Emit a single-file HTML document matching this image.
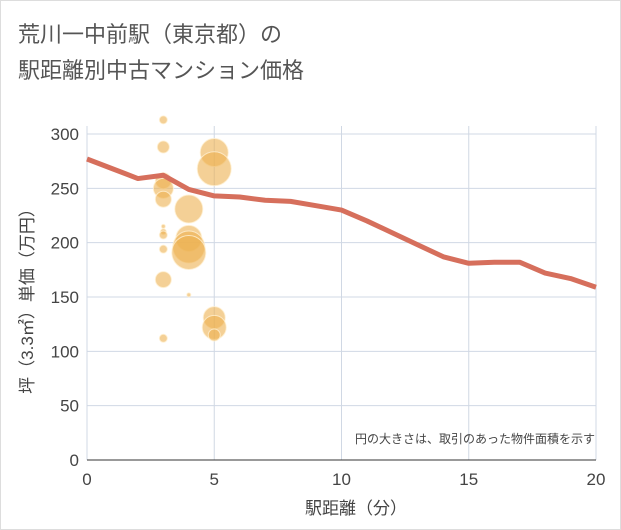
<!DOCTYPE html>
<html><head><meta charset="utf-8"><style>
body{margin:0;background:#fff;}
svg{display:block;font-family:"Liberation Sans","Noto Sans CJK JP",sans-serif;}
</style></head><body>
<svg width="621" height="530">
<rect x="0.5" y="0.5" width="620" height="529" fill="#fff" stroke="#ddd"/>
<text x="18" y="42" font-size="22" fill="#555">荒川一中前駅（東京都）の</text>
<text x="18" y="78" font-size="22" fill="#555">駅距離別中古マンション価格</text>
<g id="grid"></g>
<g id="bubbles"></g>
<g id="line"></g>
<g id="axes"></g>
<text x="595" y="443" font-size="12" fill="#444" text-anchor="end">円の大きさは、取引のあった物件面積を示す</text>
<text x="356" y="514" font-size="17" fill="#444" text-anchor="middle">駅距離（分）</text>
<text transform="translate(33,297) rotate(-90)" font-size="17" fill="#444" text-anchor="middle">坪（3.3㎡）単価（万円）</text>
</svg>
<script>
const xTicks=[0,5,10,15,20];
const yTicks=[0,50,100,150,200,250,300];
const bubbleX=[3,3,3,3,3,3,3,3,3,3,3,4,4,4,4,4,5,5,5,5,5];
const bubbleY=[313,288,257,250,240,215,210,207,194,166,112,231,204,196,191,152,283,268,131,122,115];
const bubbleR=[4,6,8,10,8,2,3,4,4,8,4,14,13,16,17,2,14,17,11,12,6];
const lineX=[0,1,2,3,4,5,6,7,8,9,10,11,12,13,14,15,16,17,18,19,20];
const lineY=[277,268,259,262,249,243,242,239,238,234,230,220,209,198,187,181,182,182,172,167,159];
const X0=87,X1=596,Y0=460,PY=1.0867;
const sx=v=>X0+(X1-X0)*v/20, sy=v=>Y0-v*PY;
const NS="http://www.w3.org/2000/svg";
function mk(t,a,p){const e=document.createElementNS(NS,t);for(const k in a)e.setAttribute(k,a[k]);p.appendChild(e);return e;}
const g=document.getElementById('grid'),ax=document.getElementById('axes');
yTicks.forEach(v=>{const l=mk('line',{x1:X0,x2:X1,y1:sy(v),y2:sy(v),stroke:'#d0d8e4','stroke-width':1},g);


const t=mk('text',{x:X0-8,y:sy(v)+6,'font-size':17,fill:'#444','text-anchor':'end'},ax);t.textContent=v;

});
xTicks.forEach(v=>{const l=mk('line',{x1:sx(v),x2:sx(v),y1:sy(300)-8,y2:Y0,stroke:'#d0d8e4','stroke-width':1},g);


const t=mk('text',{x:sx(v),y:Y0+25,'font-size':17,fill:'#444','text-anchor':'middle'},ax);t.textContent=v;

});
const xl=mk('line',{x1:X0,x2:X1,y1:Y0,y2:Y0,stroke:'#333','stroke-width':1},ax);


const b=document.getElementById('bubbles');
bubbleX.forEach((v,i)=>{const c=mk('circle',{cx:sx(v),cy:sy(bubbleY[i]),r:bubbleR[i],fill:'rgba(237,176,80,0.6)',stroke:'rgba(255,240,210,0.8)','stroke-width':1},b);

});
const p=mk('polyline',{points:lineX.map((v,i)=>sx(v)+','+sy(lineY[i])).join(' '),fill:'none',stroke:'#d66f5c','stroke-width':5,'stroke-linejoin':'round'},document.getElementById('line'));


</script>
</body></html>
